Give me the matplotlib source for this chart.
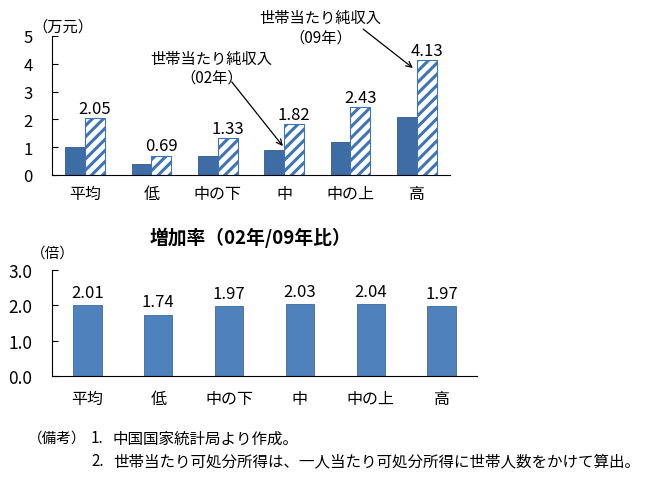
import matplotlib
matplotlib.use('Agg')
import matplotlib.pyplot as plt
import numpy as np

plt.rcParams['font.family'] = ['Noto Sans CJK JP', 'DejaVu Sans']
plt.rcParams['hatch.linewidth'] = 2.2

# Data
categories = ['平均', '低', '中の下', '中', '中の上', '高']
income_02 = [1.02, 0.40, 0.675, 0.90, 1.19, 2.10]
income_09 = [2.05, 0.69, 1.33, 1.82, 2.43, 4.13]
income_09_labels = ['2.05', '0.69', '1.33', '1.82', '2.43', '4.13']
growth = [2.01, 1.74, 1.97, 2.03, 2.04, 1.97]
growth_labels = ['2.01', '1.74', '1.97', '2.03', '2.04', '1.97']

dark_blue = '#3E6DA5'
mid_blue = '#4F81BD'

fig = plt.figure(figsize=(6.47, 4.81), dpi=100)

# Top chart: household net income
ax1 = fig.add_axes([52 / 647, 1 - 176 / 481, 398 / 647, 139 / 481])
x = np.arange(len(categories))
w = 0.3
ax1.bar(x - w / 2, income_02, w, color=dark_blue, edgecolor='#2F5A8C', linewidth=0.6)
ax1.bar(x + w / 2, income_09, w, color='white', edgecolor='#3E74B8', hatch='///', linewidth=0.8)
for xi, v, lab in zip(x, income_09, income_09_labels):
    ax1.text(xi + w / 2, v + 0.05, lab, ha='center', va='bottom', fontsize=12)
ax1.set_xlim(-0.5, len(categories) - 0.5)
ax1.set_ylim(0, 5)
ax1.set_yticks([0, 1, 2, 3, 4, 5])
ax1.set_xticks(x)
ax1.set_xticklabels(categories, fontsize=11.5)
ax1.tick_params(axis='x', length=0, pad=7)
ax1.tick_params(axis='y', direction='in', length=4, pad=14, labelsize=12)
ax1.spines['top'].set_visible(False)
ax1.spines['right'].set_visible(False)
ax1.text(-0.05, 1.07, '（万元）', transform=ax1.transAxes, ha='left', va='center', fontsize=11)

ax1.text(1.9, 3.85, '世帯当たり純収入\n（02年）', ha='center', va='center', fontsize=11, linespacing=1.15)
ax1.annotate('', xy=(x[3] - w / 2 + 0.13, income_02[3] + 0.14), xytext=(2.21, 3.35),
             arrowprops=dict(arrowstyle='->', color='black', lw=0.9, shrinkA=0, shrinkB=0))
ax1.text(3.55, 5.32, '世帯当たり純収入\n（09年）', ha='center', va='center', fontsize=11,
         linespacing=1.15, clip_on=False)
ax1.annotate('', xy=(x[5] - 0.06, income_09[5] - 0.28), xytext=(4.19, 5.25),
             annotation_clip=False,
             arrowprops=dict(arrowstyle='->', color='black', lw=0.9, shrinkA=0, shrinkB=0))

# Bottom chart: growth rate
ax2 = fig.add_axes([52 / 647, 1 - 377 / 481, 425 / 647, 106 / 481])
ax2.bar(x, growth, 0.40, color=mid_blue, edgecolor='#3B6A9E', linewidth=0.6)
for xi, v, lab in zip(x, growth, growth_labels):
    ax2.text(xi, v + 0.12, lab, ha='center', va='bottom', fontsize=12)
ax2.set_xlim(-0.5, len(categories) - 0.5)
ax2.set_ylim(0, 3)
ax2.set_yticks([0, 1, 2, 3])
ax2.set_yticklabels(['0.0', '1.0', '2.0', '3.0'])
ax2.set_xticks(x)
ax2.set_xticklabels(categories, fontsize=11.5)
ax2.tick_params(axis='x', length=0, pad=10)
ax2.tick_params(axis='y', direction='in', length=4, pad=14, labelsize=12.5)
ax2.spines['top'].set_visible(False)
ax2.spines['right'].set_visible(False)
ax2.text(-0.05, 1.16, '（倍）', transform=ax2.transAxes, ha='left', va='center', fontsize=10.5)
ax2.text(0.466, 1.31, '増加率（02年/09年比）', transform=ax2.transAxes, ha='center', va='center',
         fontsize=13.5, fontweight='bold')

# Notes
note_y1 = 1 - 439 / 481
note_y2 = 1 - 462 / 481
fig.text(28 / 647, note_y1, '（備考）', ha='left', va='center', fontsize=10.5)
fig.text(91 / 647, note_y1, '1.', ha='left', va='center', fontsize=11)
fig.text(113 / 647, note_y1, '中国国家統計局より作成。', ha='left', va='center', fontsize=11.2)
fig.text(91 / 647, note_y2, '2.', ha='left', va='center', fontsize=11)
fig.text(113 / 647, note_y2, '世帯当たり可処分所得は、一人当たり可処分所得に世帯人数をかけて算出。',
         ha='left', va='center', fontsize=11.2)

fig.savefig('out.png', dpi=100)
